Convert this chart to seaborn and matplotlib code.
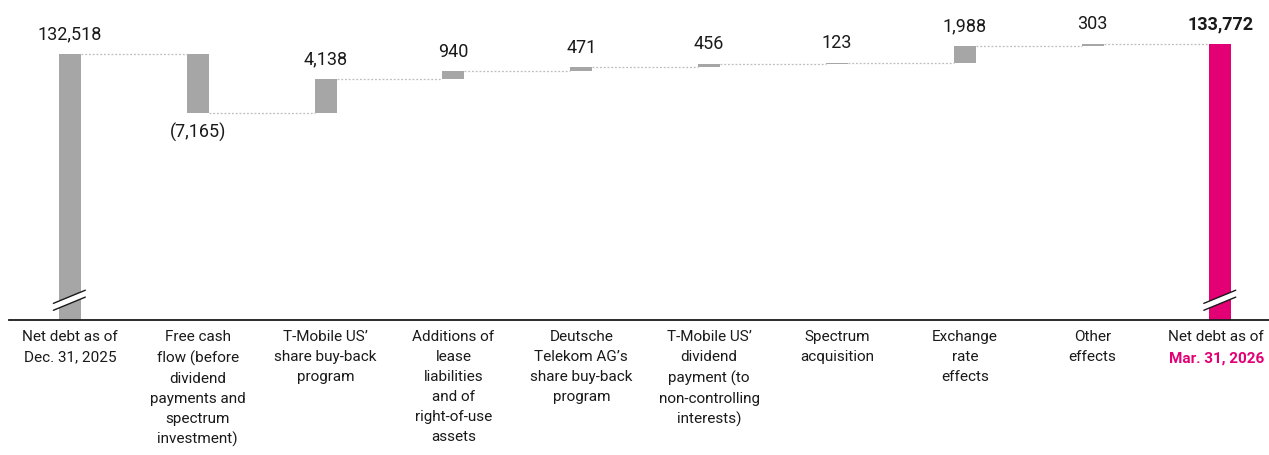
import numpy as np
import pandas as pd
import matplotlib
matplotlib.use("Agg")
import matplotlib.pyplot as plt
import seaborn as sns

# data
categories = [
    "Net debt as of\nDec. 31, 2025",
    "Free cash\nflow (before\ndividend\npayments and\nspectrum\ninvestment)",
    "T-Mobile US’\nshare buy-back\nprogram",
    "Additions of\nlease\nliabilities\nand of\nright-of-use\nassets",
    "Deutsche\nTelekom AG’s\nshare buy-back\nprogram",
    "T-Mobile US’\ndividend\npayment (to\nnon-controlling\ninterests)",
    "Spectrum\nacquisition",
    "Exchange\nrate\neffects",
    "Other\neffects",
    "Net debt as of",
]
end_date_label = "Mar. 31, 2026"
start_value = 132518
changes = [-7165, 4138, 940, 471, 456, 123, 1988, 303]
end_value = 133772

GRAY = "#a6a6a6"
MAGENTA = "#e20074"

sns.set_theme(style="white")
plt.rcParams["font.family"] = ["Roboto", "DejaVu Sans"]

# waterfall geometry from the values
levels = np.concatenate([[start_value], start_value + np.cumsum(changes)])
y_min = 100200
bottoms = [y_min] + [min(levels[i], levels[i + 1]) for i in range(len(changes))] + [y_min]
heights = [start_value - y_min] + [abs(c) for c in changes] + [end_value - y_min]

df = pd.DataFrame({
    "pos": range(len(categories)),
    "height": heights,
    "bottom": bottoms,
})

fig = plt.figure(figsize=(12.69, 4.55), dpi=100)
ax = fig.add_axes([9 / 1269, 135 / 455, 1 - 9 / 1269, 320 / 455])

sns.barplot(data=df, x="pos", y="height", color=GRAY, bottom=df["bottom"].values,
            width=0.172, saturation=1, linewidth=0, ax=ax, native_scale=True)
ax.patches[-1].set_facecolor(MAGENTA)

ax.set_xlim(-0.477, 9.38)
ax.set_ylim(y_min, 139080)
for s in ["top", "left", "right"]:
    ax.spines[s].set_visible(False)
ax.spines["bottom"].set_color("#1a1a1a")
ax.spines["bottom"].set_linewidth(1.3)
ax.set_xticks([])
ax.set_yticks([])
ax.set_xlabel("")
ax.set_ylabel("")

hw = 0.086
# connectors
for i in range(len(categories) - 1):
    ax.plot([i + hw, i + 1 - hw], [levels[i], levels[i]],
            color="#bdbdbd", lw=0.9, ls=(0, (1.5, 1.5)), zorder=1)

# value labels
values = [start_value] + changes + [end_value]
tops = [b + h for b, h in zip(bottoms, heights)]
for i, v in enumerate(values):
    if v < 0:
        ax.annotate(f"({abs(v):,})", (i, bottoms[i]), xytext=(0, -7),
                    textcoords="offset points", ha="center", va="top",
                    fontsize=13, color="#1a1a1a")
    else:
        ax.annotate(f"{v:,}", (i, tops[i]), xytext=(0, 7.5), textcoords="offset points",
                    ha="center", va="bottom", fontsize=13, color="#1a1a1a",
                    fontweight="bold" if i == len(values) - 1 else "normal")

# axis break marks on the first and last bars
for i in [0, len(categories) - 1]:
    xs = np.array([i - 0.13, i + 0.12])
    yc = y_min + 2400
    ys = yc + np.array([-800, 800])
    ax.plot(xs, ys, color="white", lw=4.5, solid_capstyle="butt", zorder=5)
    ax.plot(xs, ys + 420, color="#1a1a1a", lw=1, zorder=6)
    ax.plot(xs, ys - 420, color="#1a1a1a", lw=1, zorder=6)

# category labels
last = len(categories) - 1
for i, lab in enumerate(categories):
    dx = -3 if i == last else 0
    ax.annotate(lab, (i, y_min), xytext=(dx, -7.5), textcoords="offset points",
                ha="center", va="top", fontsize=11, color="#1a1a1a",
                linespacing=1.53, annotation_clip=False)
ax.annotate(end_date_label, (last, y_min), xytext=(-3, -22.5),
            textcoords="offset points", ha="center", va="top", fontsize=11,
            color=MAGENTA, fontweight="bold", annotation_clip=False)

fig.savefig("out.png", dpi=100)
